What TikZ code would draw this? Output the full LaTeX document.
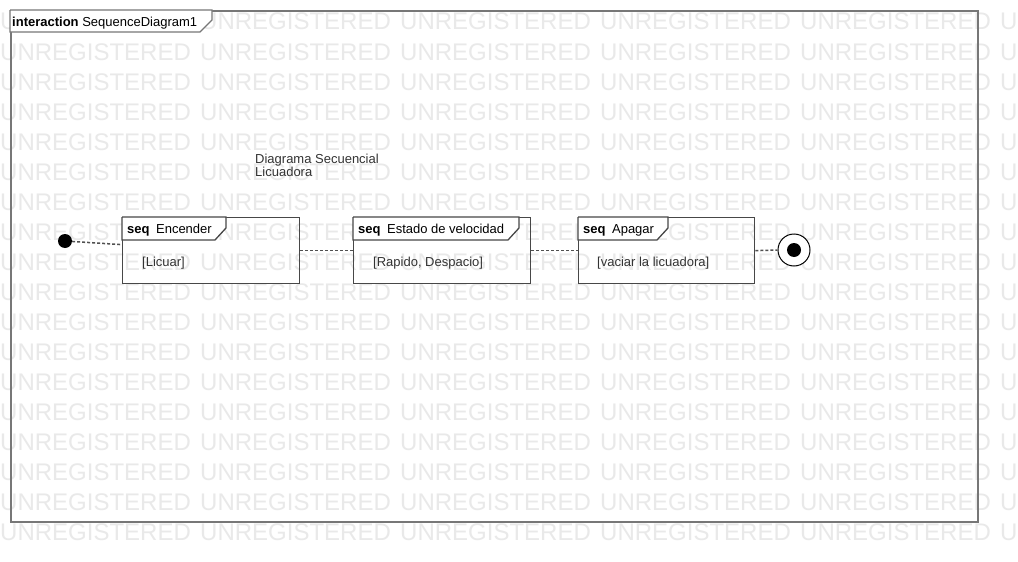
\documentclass[tikz,border=0pt]{standalone}
\usepackage{fontspec}
\setmainfont{Liberation Sans}
\usetikzlibrary{positioning,calc}
\definecolor{grismarco}{HTML}{777777}
\definecolor{grislinea}{HTML}{474747}
\definecolor{grismarca}{HTML}{E9E9E9}
\definecolor{grispunto}{HTML}{505050}
\definecolor{gristexto}{HTML}{333333}
\tikzset{
  marca/.style     = {font=\fontsize{24}{24}\selectfont, text=grismarca, inner sep=0pt, anchor=base west},
  marcogral/.style = {draw=grismarco, line width=2pt, inner sep=0pt, anchor=north west},
  bloque/.style    = {draw=grislinea, line width=1.3pt, inner sep=0pt, minimum height=66pt, anchor=north west},
  bordepest/.style = {draw=grislinea, line width=1.3pt, fill=white},
  titulo/.style    = {font=\fontsize{13}{13}\selectfont, text=black, inner sep=0pt, anchor=base west},
  guarda/.style    = {font=\fontsize{13}{13}\selectfont, text=gristexto, inner sep=0pt, anchor=base west},
  nota/.style      = {font=\fontsize{13}{13}\selectfont, text=gristexto, inner sep=0pt, anchor=base west, align=left},
  enlace/.style    = {draw=grispunto, line width=1.5pt, dash pattern=on 3pt off 2pt},
  inicio/.style    = {circle, fill=black, minimum size=14pt, inner sep=0pt},
  fin/.style       = {circle, draw=black, line width=1pt, fill=white, minimum size=32pt, inner sep=0pt},
  finpunto/.style  = {circle, fill=black, minimum size=14pt, inner sep=0pt}
}
\begin{document}
\begin{tikzpicture}[x=1pt, y=-1pt]
  \useasboundingbox[fill=white] (0,0) rectangle (1018,562);

  % marca de agua
  \foreach \fila in {0,...,17}
    \foreach \col in {0,...,5}
      \node[marca] (m-\fila-\col) at (200*\col, 30+30*\fila) {UNREGISTERED};

  % marco de la interaccion
  \node[marcogral, minimum width=967pt, minimum height=511pt] (marco) at (10,10) {};
  \draw[draw=grismarco, line width=1.3pt, fill=white]
    (marco.north west) -- ++(202,0) -- ++(0,10) -- ++(-12,12) -| (marco.north west);
  \node[titulo] (marcotit) at (12,26) {\textbf{interaction} SequenceDiagram1};

  \node[nota] (nota) at (255,176) {Diagrama Secuencial\\Licuadora};

  % bloques seq
  \node[bloque, minimum width=177pt] (enc) at (122,217) {};
  \node[bloque, minimum width=177pt] (vel) at (353,217) {};
  \node[bloque, minimum width=176pt] (apa) at (578,217) {};

  \draw[bordepest] (enc.north west) -- ++(104,0) -- ++(0,11) -- ++(-11,12) -| (enc.north west);
  \draw[bordepest] (vel.north west) -- ++(166,0) -- ++(0,11) -- ++(-11,12) -| (vel.north west);
  \draw[bordepest] (apa.north west) -- ++(90,0) -- ++(0,11) -- ++(-11,12) -| (apa.north west);

  \node[titulo] (enctit) at ([xshift=5pt, yshift=-16pt]enc.north west) {\textbf{seq}\enspace Encender};
  \node[titulo] (veltit) at ([xshift=5pt, yshift=-16pt]vel.north west) {\textbf{seq}\enspace Estado de velocidad};
  \node[titulo] (apatit) at ([xshift=5pt, yshift=-16pt]apa.north west) {\textbf{seq}\enspace Apagar};

  \node[guarda] (encg) at ([xshift=20pt, yshift=-16pt]enc.west) {[Licuar]};
  \node[guarda] (velg) at ([xshift=20pt, yshift=-16pt]vel.west) {[Rapido, Despacio]};
  \node[guarda] (apag) at ([xshift=19pt, yshift=-16pt]apa.west) {[vaciar la licuadora]};

  % nodos inicial y final
  \node[inicio] (ini) at (65,241) {};
  \node[fin] (final) at (794,250) {};
  \node[finpunto] (finalp) at (final.center) {};

  \draw[enlace] (ini) -- ([yshift=6pt]enc.west);
  \draw[enlace] (enc.east) -- (vel.west);
  \draw[enlace] (vel.east) -- (apa.west);
  \draw[enlace] (apa.east) -- (final.west);
\end{tikzpicture}
\end{document}
